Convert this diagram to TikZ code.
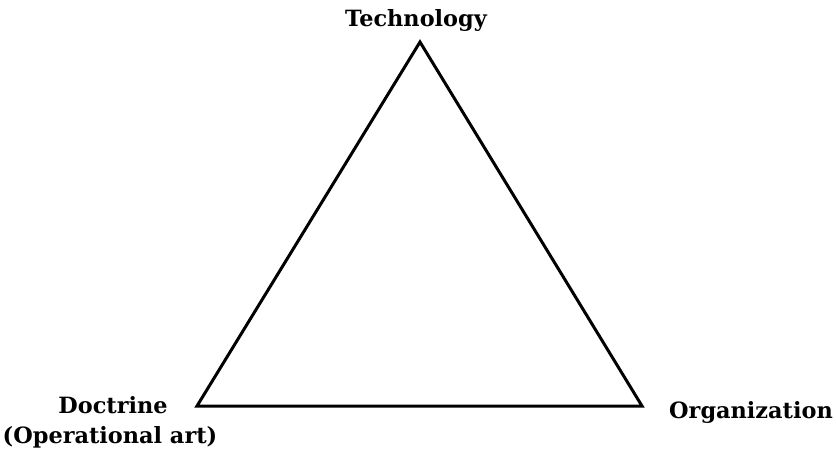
\documentclass[tikz,border=0pt]{standalone}
\usepackage{fontspec}
\setmainfont{DejaVu Serif}
\begin{document}
\begin{tikzpicture}[x=1pt,y=1pt,
  lbl/.style={font=\fontsize{22.4}{26}\selectfont\bfseries, inner sep=0pt, align=center},
  edge/.style={line width=3pt, line join=miter}]
\useasboundingbox (0,0) rectangle (836,453);
\coordinate (T) at (420,411);
\coordinate (D) at (197,47);
\coordinate (O) at (642,47);
\draw[edge] (T) -- (D) -- (O) -- cycle;
\node[lbl] (tech) at (416,433) {Technology};
\node[lbl] (doc) at (113,48) {Doctrine};
\node[lbl] (op) at (110,16) {(Operational art)};
\node[lbl] (org) at (751,41) {Organization};
\end{tikzpicture}
\end{document}
